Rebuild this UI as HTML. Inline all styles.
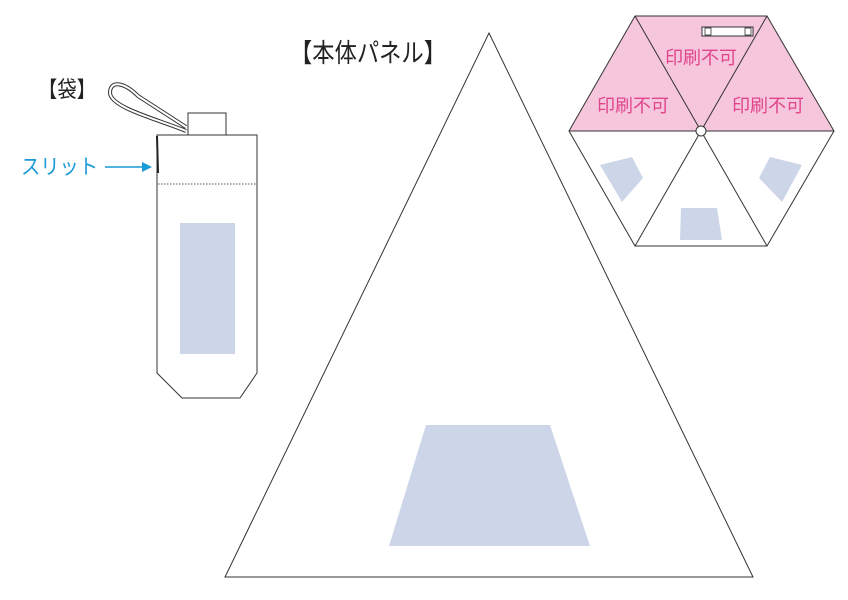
<!DOCTYPE html>
<html><head><meta charset="utf-8"><style>
body{margin:0;background:#fff;}
svg{display:block}
text{font-family:"Liberation Sans","Noto Sans CJK JP",sans-serif}
</style></head><body>
<svg width="848" height="600" viewBox="0 0 848 600" xmlns="http://www.w3.org/2000/svg">
<!-- labels -->
<text x="38" y="97" font-size="22" fill="#222" textLength="58" lengthAdjust="spacingAndGlyphs">【袋】</text>
<text x="21" y="174" font-size="21" fill="#1a9ad6" textLength="77" lengthAdjust="spacingAndGlyphs">スリット</text>
<line x1="105" y1="167" x2="144" y2="167" stroke="#1a9ad6" stroke-width="1.5"/>
<polygon points="152,167 142,162 142,172" fill="#1a9ad6"/>
<text x="290" y="62" font-size="26" fill="#222" textLength="156" lengthAdjust="spacingAndGlyphs">【本体パネル】</text>

<!-- bag loop -->
<path d="M186,131 C160,120 111,108 110,93 C110,80 124,82 138,96 L186,127" fill="none" stroke="#333" stroke-width="4" stroke-linejoin="round"/>
<path d="M186,131 C160,120 111,108 110,93 C110,80 124,82 138,96 L186,127" fill="none" stroke="#fff" stroke-width="2" stroke-linejoin="round"/>
<rect x="188" y="113" width="38" height="22" fill="#fff" stroke="#333" stroke-width="1"/>
<!-- bag body -->
<polygon points="157,135 257,135 257,373 240,398 182,398 157,373" fill="#fff" stroke="#333" stroke-width="1"/>
<line x1="157" y1="136" x2="158" y2="173" stroke="#222" stroke-width="2"/>
<line x1="158" y1="184" x2="256" y2="184" stroke="#555" stroke-width="1" stroke-dasharray="1.5,1.5"/>
<rect x="180" y="223" width="55" height="131" fill="#cdd6e8"/>

<!-- main triangle -->
<polygon points="489,33 753,577 225,577" fill="#fff" stroke="#333" stroke-width="1"/>
<polygon points="426,425 550,425 590,546 389,546" fill="#cdd6e8"/>

<!-- hexagon -->
<polygon points="635,16 767,16 701,131" fill="#f6c6dc"/>
<polygon points="635,16 701,131 569,131" fill="#f6c6dc"/>
<polygon points="767,16 834,131 701,131" fill="#f6c6dc"/>
<polygon points="635,16 767,16 834,131 767,246 635,246 569,131" fill="none" stroke="#333" stroke-width="1"/>
<line x1="635" y1="16" x2="767" y2="246" stroke="#333" stroke-width="1"/>
<line x1="767" y1="16" x2="635" y2="246" stroke="#333" stroke-width="1"/>
<line x1="569" y1="131" x2="834" y2="131" stroke="#333" stroke-width="1"/>
<circle cx="701" cy="131" r="5" fill="#fff" stroke="#333" stroke-width="1"/>
<rect x="702" y="27" width="51" height="9" fill="#fff" stroke="#333" stroke-width="1"/>
<rect x="705" y="28" width="6" height="7" fill="none" stroke="#333" stroke-width="0.8"/>
<rect x="745" y="28" width="6" height="7" fill="none" stroke="#333" stroke-width="0.8"/>
<text x="701" y="64" font-size="18" fill="#e0458c" text-anchor="middle">印刷不可</text>
<text x="633" y="112" font-size="18" fill="#e0458c" text-anchor="middle">印刷不可</text>
<text x="768" y="112" font-size="18" fill="#e0458c" text-anchor="middle">印刷不可</text>
<polygon points="681,208 717,208 722,240 680,240" fill="#cdd6e8"/>
<polygon points="600,165 632,157 643,178 622,202" fill="#cdd6e8"/>
<polygon points="770,157 802,165 782,202 759,178" fill="#cdd6e8"/>
</svg>
</body></html>
